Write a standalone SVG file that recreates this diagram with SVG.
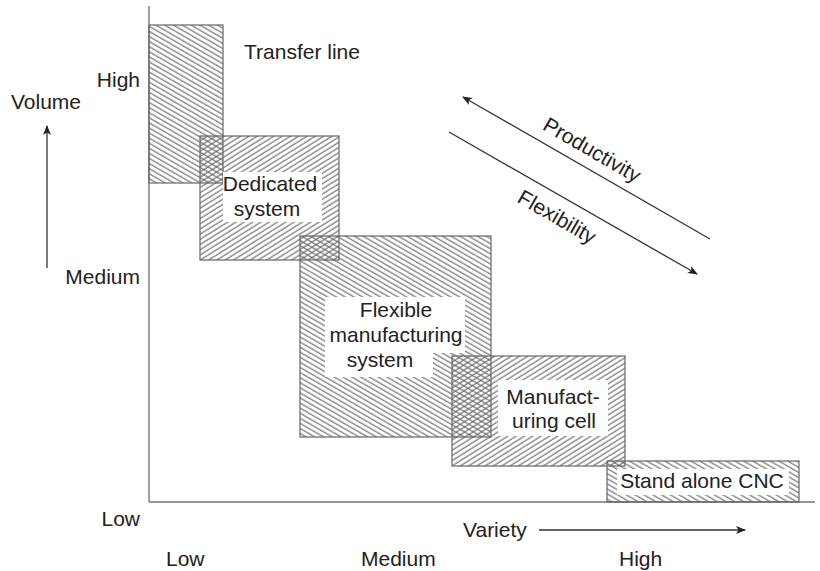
<svg xmlns="http://www.w3.org/2000/svg" width="820" height="571" viewBox="0 0 820 571">
  <style>
    text { font-family: "Liberation Sans", Arial, sans-serif; font-size: 21px; fill: #222; }
    .mid { text-anchor: middle; }
    .end { text-anchor: end; }
    .box { stroke: #666; stroke-width: 1.2; }
    .axis { stroke: #777; stroke-width: 1.4; fill: none; }
    .arrow { stroke: #333; stroke-width: 1.3; fill: none; }
    .bg { fill: #fff; }
  </style>
  <defs>
    <!-- descending hatch (\\\) -->
    <pattern id="hatchDown" patternUnits="userSpaceOnUse" width="10" height="4.4" patternTransform="rotate(30)">
      <line x1="0" y1="1" x2="10" y2="1" stroke="#666" stroke-width="1.1"/>
    </pattern>
    <!-- ascending hatch (///) -->
    <pattern id="hatchUp" patternUnits="userSpaceOnUse" width="10" height="4.4" patternTransform="rotate(-32)">
      <line x1="0" y1="1" x2="10" y2="1" stroke="#666" stroke-width="1.1"/>
    </pattern>
    <marker id="head" viewBox="0 0 10 10" refX="9" refY="5" markerWidth="10" markerHeight="10" markerUnits="userSpaceOnUse" orient="auto">
      <path d="M0,1 L10,5 L0,9 L2.5,5 Z" fill="#222"/>
    </marker>
  </defs>

  <!-- axes -->
  <g id="axes">
    <line class="axis" x1="149" y1="6" x2="149" y2="502"/>
    <line class="axis" x1="149" y1="502" x2="815" y2="502"/>
  </g>

  <!-- transfer line -->
  <g id="transfer-line">
    <rect class="box" x="149" y="25" width="74" height="158" fill="url(#hatchDown)"/>
    <text x="244" y="59">Transfer line</text>
  </g>

  <!-- dedicated system -->
  <g id="dedicated-system">
    <rect class="box" x="200" y="136" width="139" height="124" fill="url(#hatchUp)"/>
    <rect class="bg" x="223" y="172" width="99" height="50"/>
    <text class="mid" x="270" y="191">Dedicated</text>
    <text class="mid" x="267" y="216">system</text>
  </g>

  <!-- flexible manufacturing system -->
  <g id="fms">
    <rect class="box" x="300" y="236" width="191" height="201" fill="url(#hatchDown)"/>
    <path class="bg" d="M325,297 H465 V353 H433 V377 H325 Z"/>
    <text class="mid" x="396" y="317">Flexible</text>
    <text class="mid" x="396" y="342">manufacturing</text>
    <text class="mid" x="380" y="367">system</text>
  </g>

  <!-- manufacturing cell -->
  <g id="manufacturing-cell">
    <rect class="box" x="452" y="356" width="173" height="110" fill="url(#hatchUp)"/>
    <rect class="bg" x="498" y="380" width="110" height="56"/>
    <text class="mid" x="553" y="404">Manufact-</text>
    <text class="mid" x="554" y="428">uring cell</text>
  </g>

  <!-- stand alone CNC -->
  <g id="stand-alone-cnc">
    <rect class="box" x="607" y="461" width="192" height="41" fill="url(#hatchDown)"/>
    <rect class="bg" x="617" y="469" width="172" height="26"/>
    <text class="mid" x="702" y="488">Stand alone CNC</text>
  </g>

  <!-- connectors: trend and axis arrows -->
  <g id="connectors">
    <line class="arrow" x1="710" y1="239" x2="463" y2="97" marker-end="url(#head)"/>
    <line class="arrow" x1="449" y1="132" x2="697" y2="274" marker-end="url(#head)"/>
    <line class="arrow" x1="47" y1="268" x2="47" y2="126" marker-end="url(#head)"/>
    <line class="arrow" x1="539" y1="530" x2="745" y2="530" marker-end="url(#head)"/>
  </g>

  <!-- labels -->
  <g id="labels">
    <text transform="translate(592,150) rotate(30)" class="mid" y="7">Productivity</text>
    <text transform="translate(557,217) rotate(30)" class="mid" y="7">Flexibility</text>
    <text x="11" y="109">Volume</text>
    <text class="end" x="140" y="87">High</text>
    <text class="end" x="140" y="284">Medium</text>
    <text class="end" x="140" y="526">Low</text>
    <text x="463" y="537">Variety</text>
    <text x="166" y="566">Low</text>
    <text x="361" y="566">Medium</text>
    <text x="619" y="566">High</text>
  </g>
</svg>
